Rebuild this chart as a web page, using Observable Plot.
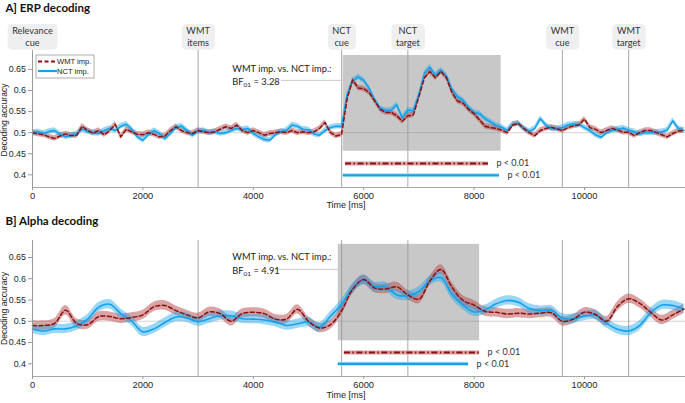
<!DOCTYPE html>
<html><head><meta charset="utf-8">
<script src="https://cdn.jsdelivr.net/npm/d3@7"></script>
<script src="https://cdn.jsdelivr.net/npm/@observablehq/plot@0.6"></script>
<style>
body{margin:0;background:#fff;}
#fig{width:685px;height:403px;position:relative;overflow:hidden;background:#fff;}
#fig svg{display:block;overflow:visible;}
</style></head><body><div id="fig"></div>
<script>
// ---------- data ----------
const xTicks = [0, 2000, 4000, 6000, 8000, 10000];
const yTicks = [0.4, 0.45, 0.5, 0.55, 0.6, 0.65];
const eventTimes = [0, 3000, 5600, 6800, 9600, 10800];
const eventLabels = ["Relevance\ncue", "WMT\nitems", "NCT\ncue", "NCT\ntarget", "WMT\ncue", "WMT\ntarget"];
const seriesNames = ["WMT imp.", "NCT imp."];

const erpStep = 100; // ms between samples
const erpWMT = [
0.500,0.497,0.495,0.490,0.486,0.492,0.497,0.493,0.493,0.515,
0.505,0.499,0.505,0.495,0.505,0.520,0.490,0.508,0.502,0.496,
0.495,0.500,0.496,0.490,0.492,0.505,0.514,0.505,0.500,0.498,
0.505,0.502,0.500,0.502,0.508,0.514,0.510,0.518,0.505,0.500,
0.505,0.500,0.494,0.498,0.500,0.502,0.500,0.505,0.500,0.502,
0.500,0.502,0.510,0.524,0.500,0.492,0.496,0.580,0.625,0.606,
0.604,0.595,0.575,0.555,0.548,0.548,0.540,0.527,0.540,0.542,
0.585,0.630,0.645,0.630,0.645,0.630,0.595,0.575,0.570,0.555,
0.545,0.530,0.515,0.512,0.510,0.506,0.500,0.518,0.522,0.510,
0.500,0.493,0.505,0.510,0.513,0.509,0.505,0.512,0.516,0.518,
0.532,0.512,0.508,0.500,0.505,0.510,0.506,0.501,0.501,0.493,
0.500,0.505,0.505,0.500,0.495,0.490,0.498,0.504,0.505];
const erpNCT = [
0.500,0.502,0.498,0.503,0.505,0.496,0.490,0.493,0.497,0.508,
0.503,0.499,0.498,0.505,0.510,0.505,0.515,0.520,0.508,0.490,
0.482,0.495,0.505,0.498,0.486,0.498,0.512,0.516,0.505,0.494,
0.503,0.505,0.500,0.502,0.498,0.500,0.505,0.510,0.507,0.510,
0.498,0.490,0.484,0.482,0.495,0.502,0.505,0.518,0.515,0.508,
0.507,0.497,0.494,0.505,0.512,0.515,0.515,0.590,0.622,0.632,
0.624,0.605,0.578,0.557,0.552,0.553,0.566,0.535,0.553,0.552,
0.590,0.640,0.655,0.636,0.648,0.635,0.603,0.585,0.577,0.560,
0.548,0.545,0.533,0.525,0.517,0.513,0.505,0.520,0.522,0.510,
0.503,0.510,0.533,0.518,0.509,0.509,0.512,0.518,0.520,0.520,
0.512,0.505,0.495,0.489,0.500,0.505,0.508,0.511,0.506,0.502,
0.497,0.500,0.500,0.501,0.502,0.506,0.528,0.510,0.505];
const erpSE = 0.0065;

const alphaStep = 200;
const alphaWMT = [
0.490,0.490,0.495,0.526,0.495,0.492,0.511,0.511,0.506,0.509,
0.515,0.534,0.537,0.525,0.515,0.508,0.522,0.518,0.500,0.518,
0.521,0.518,0.505,0.505,0.528,0.500,0.484,0.492,0.525,0.575,
0.598,0.578,0.576,0.581,0.562,0.552,0.595,0.622,0.580,0.549,
0.538,0.523,0.521,0.517,0.519,0.517,0.519,0.520,0.500,0.505,
0.521,0.516,0.500,0.535,0.553,0.542,0.521,0.503,0.515,0.529];
const alphaNCT = [
0.482,0.477,0.482,0.482,0.489,0.505,0.533,0.540,0.518,0.500,
0.475,0.482,0.497,0.510,0.508,0.499,0.506,0.513,0.513,0.506,
0.505,0.503,0.498,0.490,0.494,0.498,0.486,0.512,0.540,0.577,
0.597,0.581,0.581,0.562,0.560,0.570,0.595,0.603,0.563,0.538,
0.522,0.527,0.541,0.549,0.545,0.530,0.525,0.526,0.507,0.506,
0.512,0.514,0.495,0.481,0.477,0.490,0.520,0.538,0.537,0.529];
const alphaSE = 0.011;

// analysis windows (ms) and significant clusters (ms)
const erpWindow = [5630, 8490];
const alphaWindow = [5540, 8100];
const erpSigWMT = [5670, 8260], erpSigNCT = [5630, 8460];
const alphaSigWMT = [5650, 8100], alphaSigNCT = [5540, 7900];
const erpBF = "3.28", alphaBF = "4.91";
const pText = "p < 0.01";

// ---------- drawing ----------
const RED = "#8e0f0f", BLUE = "#12a2ec";
const CAL = "Lato, 'Open Sans', sans-serif";
const ARIAL = "'Liberation Sans', Arial, sans-serif";

function rows(vals, step) { return vals.map((v, i) => ({t: i * step, v})); }

function panel(o) {
  const dW = rows(o.wmt, o.step), dN = rows(o.nct, o.step);
  const se = o.se, curve = o.curve;
  const marks = [
    Plot.rect([{a: o.win[0], b: o.win[1]}], {x1: "a", x2: "b", y1: o.boxY[0], y2: o.boxY[1], fill: "#c8c8c8"}),
    Plot.ruleY([0.5], {stroke: "#888", strokeOpacity: 0.35}),
    Plot.ruleX(o.top ? eventTimes : eventTimes.slice(1), {stroke: "#999", strokeOpacity: 0.85, insetTop: o.top ? -4 : 0}),
    Plot.ruleY([{y: o.bfY[2], a: o.bfLine, b: o.win[0]}], {y: "y", x1: "a", x2: "b", stroke: "#c8c8c8"}),
    Plot.areaY(dW, {x: "t", y1: d => d.v - se, y2: d => d.v + se, fill: "#b5474a", fillOpacity: 0.5, curve}),
    Plot.areaY(dN, {x: "t", y1: d => d.v - se, y2: d => d.v + se, fill: "#1fa6ee", fillOpacity: 0.45, curve}),
    Plot.line(dN, {x: "t", y: "v", stroke: BLUE, strokeWidth: 1.6, curve}),
    Plot.line(dW, {x: "t", y: "v", stroke: RED, strokeWidth: 1.5, strokeDasharray: "4,2.5", curve}),
    // significance bars
    Plot.ruleY([{y: o.sigY[0], a: o.sigW[0], b: o.sigW[1]}], {y: "y", x1: "a", x2: "b", stroke: "#d8a2a2", strokeWidth: 4}),
    Plot.ruleY([{y: o.sigY[0], a: o.sigW[0], b: o.sigW[1]}], {y: "y", x1: "a", x2: "b", stroke: RED, strokeWidth: 2, strokeDasharray: "6,2.5,1.5,2.5"}),
    Plot.ruleY([{y: o.sigY[1], a: o.sigN[0], b: o.sigN[1]}], {y: "y", x1: "a", x2: "b", stroke: "#a6dcf8", strokeWidth: 4}),
    Plot.ruleY([{y: o.sigY[1], a: o.sigN[0], b: o.sigN[1]}], {y: "y", x1: "a", x2: "b", stroke: BLUE, strokeWidth: 2.2}),
    Plot.text([{x: o.sigW[1], y: o.sigY[0]}, {x: o.sigN[1], y: o.sigY[1]}], {x: "x", y: "y", text: () => pText, dx: 8, textAnchor: "start", fontFamily: CAL, fontSize: 9, fill: "#333"}),
    // annotation
    Plot.text(["WMT imp. vs. NCT imp.:"], {x: o.bfX, y: o.bfY[0], textAnchor: "start", fontFamily: CAL, fontSize: 9.3, fill: "#222"}),
    Plot.text(["BF01 = " + o.bf], {x: o.bfX, y: o.bfY[1], textAnchor: "start", fontFamily: CAL, fontSize: 9.3, fill: "#222", className: "bftext"}),
    // axes
    Plot.ruleX([0], {stroke: "#999"}),
    Plot.ruleY([0.37], {stroke: "#aaa"}),
    Plot.axisX(xTicks, {tickSize: 3, tickPadding: 1.5, tickFormat: d => String(d), stroke: "#999", fill: "#262626", fontFamily: ARIAL, fontSize: 9.3, label: null}),
    Plot.axisY(yTicks, {tickSize: 4, tickPadding: 2.5, tickFormat: d => String(d), stroke: "#999", fill: "#262626", fontFamily: ARIAL, fontSize: 8.9, label: null}),
    Plot.text(["Decoding accuracy"], {frameAnchor: "left", dx: -28.5, rotate: -90, textAnchor: "middle", lineAnchor: "middle", fontFamily: ARIAL, fontSize: 8.6, fill: "#262626"}),
    Plot.text(["Time [ms]"], {frameAnchor: "bottom", dx: -13, dy: o.timeDy, textAnchor: "middle", lineAnchor: "middle", fontFamily: ARIAL, fontSize: 9, fill: "#262626"}),
    Plot.text([o.title], {frameAnchor: "top-left", dx: -27, dy: o.titleDy, textAnchor: "start", lineAnchor: "middle", fontFamily: CAL, fontWeight: "bold", fontSize: 11.5, fill: "#111"})
  ];
  if (o.top) {
    marks.push(Plot.text(eventTimes.map((t, i) => ({t, label: eventLabels[i]})), {
      x: "t", text: "label", frameAnchor: "top", dy: -16, lineAnchor: "middle", lineHeight: 1.28,
      textAnchor: "middle", fontFamily: CAL, fontSize: 9.2, fill: "#333", className: "evlab"
    }));
  }
  return Plot.plot({
    width: 685, height: o.height,
    marginLeft: 32, marginRight: 0, marginTop: o.mt, marginBottom: o.mb,
    x: {domain: [0, 11830]},
    y: {domain: [0.37, 0.69]},
    style: {fontFamily: ARIAL, fontSize: "9.3px", color: "#262626", background: "transparent", overflow: "visible"},
    marks
  });
}

const plotA = panel({
  top: true, wmt: erpWMT, nct: erpNCT, step: erpStep, se: erpSE, curve: "linear",
  win: erpWindow, boxY: [0.456, 0.683], sigW: erpSigWMT, sigN: erpSigNCT, sigY: [0.427, 0.399],
  bf: erpBF, bfX: 3620, bfY: [0.652, 0.621, 0.624], bfLine: 4510,
  title: "A] ERP decoding", titleDy: -44, timeDy: 18, height: 210, mt: 52, mb: 23
});
const plotB = panel({
  top: false, wmt: alphaWMT, nct: alphaNCT, step: alphaStep, se: alphaSE, curve: "catmull-rom",
  win: alphaWindow, boxY: [0.454, 0.681], sigW: alphaSigWMT, sigN: alphaSigNCT, sigY: [0.4265, 0.3999],
  bf: alphaBF, bfX: 3620, bfY: [0.650, 0.619, 0.622], bfLine: 4420,
  title: "B] Alpha decoding", titleDy: -19, timeDy: 19, height: 193, mt: 30, mb: 27
});
const fig = document.getElementById("fig");
fig.appendChild(plotA);
fig.appendChild(plotB);

// rounded boxes behind event labels
d3.select(plotA).selectAll("g.evlab text").each(function () {
  const b = this.getBBox();
  const r = document.createElementNS("http://www.w3.org/2000/svg", "rect");
  r.setAttribute("x", b.x - 4.5); r.setAttribute("y", b.y - 1.5);
  r.setAttribute("width", b.width + 9); r.setAttribute("height", b.height + 3);
  r.setAttribute("rx", 5); r.setAttribute("fill", "#efefef");
  if (this.getAttribute("transform")) r.setAttribute("transform", this.getAttribute("transform"));
  this.parentNode.insertBefore(r, this);
});
// subscript in BF01
[plotA, plotB].forEach(p => d3.select(p).selectAll("g.bftext text").each(function () {
  const s = this.textContent; const rest = s.slice(4);
  const t = d3.select(this); t.text("");
  t.append("tspan").text("BF");
  t.append("tspan").attr("font-size", "6.5px").attr("dy", "2").text("01");
  t.append("tspan").attr("dy", "-2").text(rest);
}));
// legend
const lg = d3.select(plotA).append("g").attr("transform", "translate(36,55)").attr("text-anchor", "start");
lg.append("rect").attr("width", 58).attr("height", 23).attr("fill", "white").attr("stroke", "#999").attr("stroke-width", 0.8);
[[RED, "4,2.5", 6.5], [BLUE, null, 16]].forEach(([c, dash, y], i) => {
  const l = lg.append("line").attr("x1", 2).attr("x2", 21).attr("y1", y).attr("y2", y).attr("stroke", c).attr("stroke-width", i ? 2.2 : 1.8);
  if (dash) l.attr("stroke-dasharray", dash);
  lg.append("text").attr("x", 21).attr("y", y).attr("dy", "0.35em").attr("text-anchor", "start")
    .attr("font-family", ARIAL).attr("font-size", 7.6).attr("fill", "#222").text(seriesNames[i]);
});
</script></body></html>
